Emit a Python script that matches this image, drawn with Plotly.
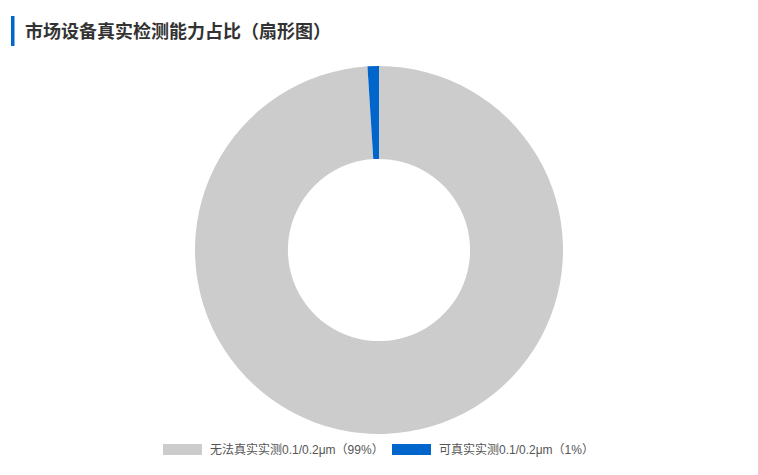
import plotly.graph_objects as go

# data
labels = ['无法真实实测0.1/0.2μm', '可真实实测0.1/0.2μm']
values = [99, 1]
colors = ['#cccccc', '#0066cc']
legend_text = [f'{l}（{v}%）' for l, v in zip(labels, values)]

W, H = 758, 475
top, bottom = 66, 41
plot_h = H - top - bottom

def py(px):
    # pixel y from top -> paper y
    return (H - bottom - px) / plot_h

pie = go.Pie(
    labels=labels, values=values,
    hole=0.495, sort=False, direction='clockwise', rotation=0,
    marker=dict(colors=colors, line=dict(width=0)),
    textinfo='none', showlegend=False,
    hovertemplate='%{label}: %{percent}<extra></extra>',
)

fig = go.Figure(data=[pie])

shapes = [
    # blue accent bar by the title
    dict(type='rect', xref='paper', yref='paper',
         x0=11 / W, x1=14.5 / W, y0=py(46), y1=py(16),
         fillcolor='#0066cc', line_width=0),
]
annotations = []

# custom legend with wide swatches
sw_x = [163, 392]
for i, txt in enumerate(legend_text):
    shapes.append(dict(type='rect', xref='paper', yref='paper',
                       x0=sw_x[i] / W, x1=(sw_x[i] + 39) / W,
                       y0=py(455), y1=py(444),
                       fillcolor=colors[i], line_width=0))
    annotations.append(dict(text=txt, xref='paper', yref='paper',
                            x=(sw_x[i] + 45) / W, y=py(449.5),
                            xanchor='left', yanchor='middle', showarrow=False,
                            font=dict(size=12, color='#555555',
                                      family='Liberation Sans, Noto Sans CJK SC, sans-serif')))

fig.update_layout(
    width=W, height=H,
    title=dict(text='<b>市场设备真实检测能力占比（扇形图）</b>',
               x=25 / W, xanchor='left', xref='container',
               y=1 - 32 / H, yanchor='middle', yref='container',
               font=dict(size=18, color='#333333',
                         family='Noto Sans CJK SC, sans-serif')),
    margin=dict(l=0, r=0, t=top, b=bottom),
    paper_bgcolor='white', plot_bgcolor='white',
    shapes=shapes, annotations=annotations,
)

# drop the default page margin so the figure sits at the window corner
fig.write_html('out.html', config={'displayModeBar': False},
               post_script="document.body.style.margin='0';")
